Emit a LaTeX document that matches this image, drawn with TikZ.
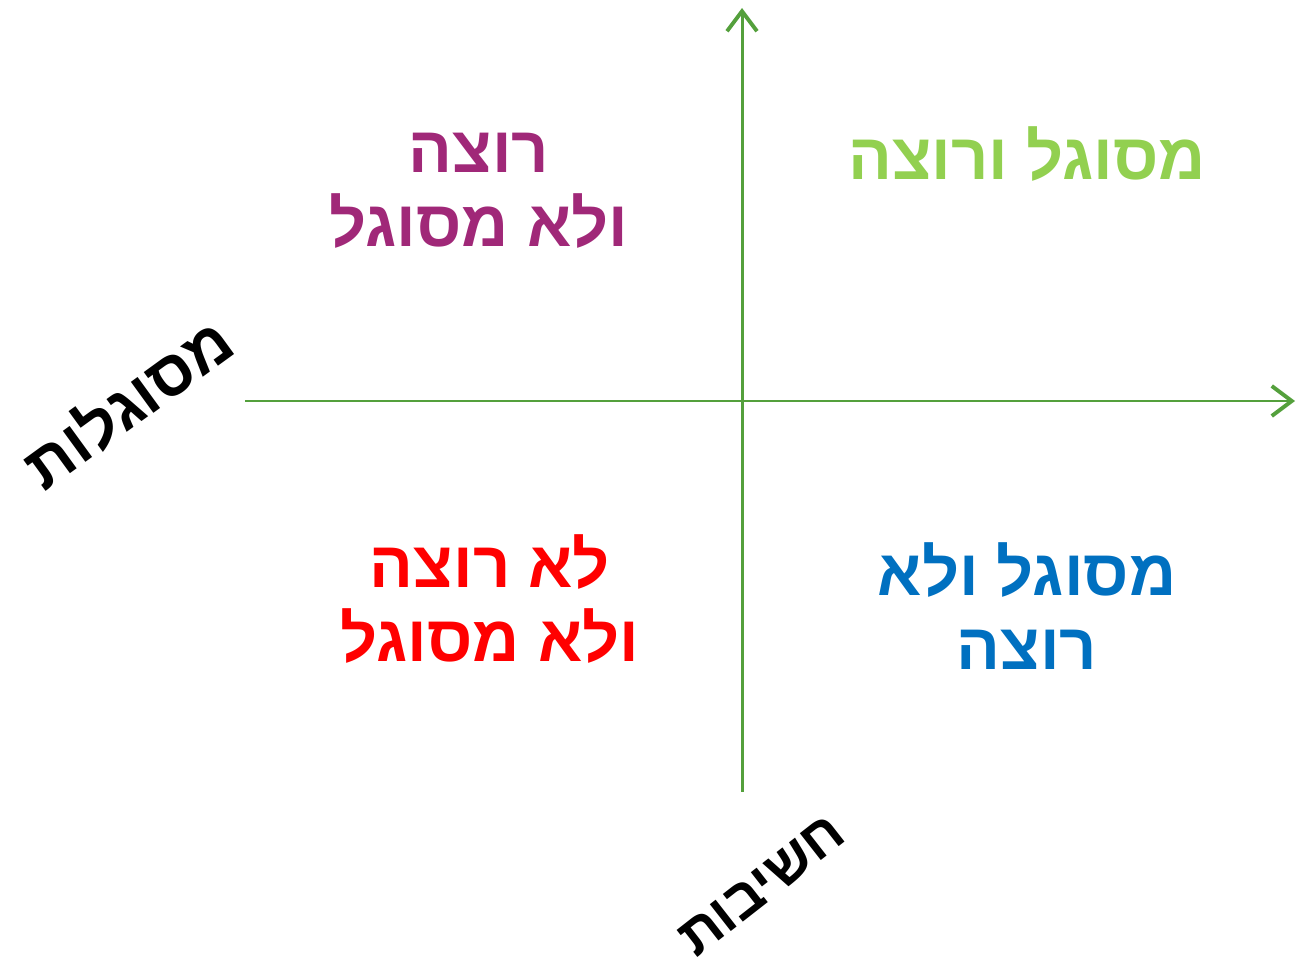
\documentclass[tikz,border=0pt]{standalone}
\usepackage{fontspec}
\newfontfamily\hebfont[Script=Hebrew]{Liberation Sans}
\TeXXeTstate=1
\usetikzlibrary{arrows.meta}
\definecolor{axisgreen}{RGB}{84,160,60}
\definecolor{qgreen}{RGB}{146,208,80}
\definecolor{qpurple}{RGB}{160,40,120}
\definecolor{qred}{RGB}{255,0,0}
\definecolor{qblue}{RGB}{0,112,192}
\tikzset{
  axis/.style={-{Straight Barb[length=4mm,width=6mm,line width=2.2pt]}, line width=1.7pt, draw=axisgreen},
  quad/.style={font=\hebfont\bfseries\fontsize{37}{42}\selectfont, align=center, inner sep=0pt},
  axislabel/.style={font=\hebfont\bfseries\fontsize{36}{42}\selectfont, inner sep=0pt, text=black}
}
\begin{document}
\begin{tikzpicture}[x=0.02cm, y=0.02cm]
  \useasboundingbox (0,0) rectangle (1305,974);

  % axes
  \coordinate (xstart) at (245,573);
  \coordinate (xend) at (1295,573);
  \coordinate (ystart) at (742,182);
  \coordinate (yend) at (742,966);
  \draw[axis] (xstart) -- (xend);
  \draw[axis] (ystart) -- (yend);

  % quadrants
  \node[quad, text=qgreen] (ablewilling) at (1027,820)
    {\beginR מסוגל ורוצה\endR};
  \node[quad, text=qpurple] (willingonly) at (479,783)
    {\beginR רוצה\endR\\\beginR ולא מסוגל\endR};
  \node[quad, text=qred] (neither) at (490,375)
    {\beginR לא רוצה\endR\\\beginR ולא מסוגל\endR};
  \node[quad, text=qblue] (ableonly) at (1027,368)
    {\beginR מסוגל ולא\endR\\\beginR רוצה\endR};

  % axis labels
  \node[axislabel, rotate=36] (ability) at (127,572) {\beginR מסוגלות\endR};
  \node[axislabel, rotate=38, font=\hebfont\bfseries\fontsize{32}{38}\selectfont]
    (importance) at (762,88) {\beginR חשיבות\endR};
\end{tikzpicture}
\end{document}
